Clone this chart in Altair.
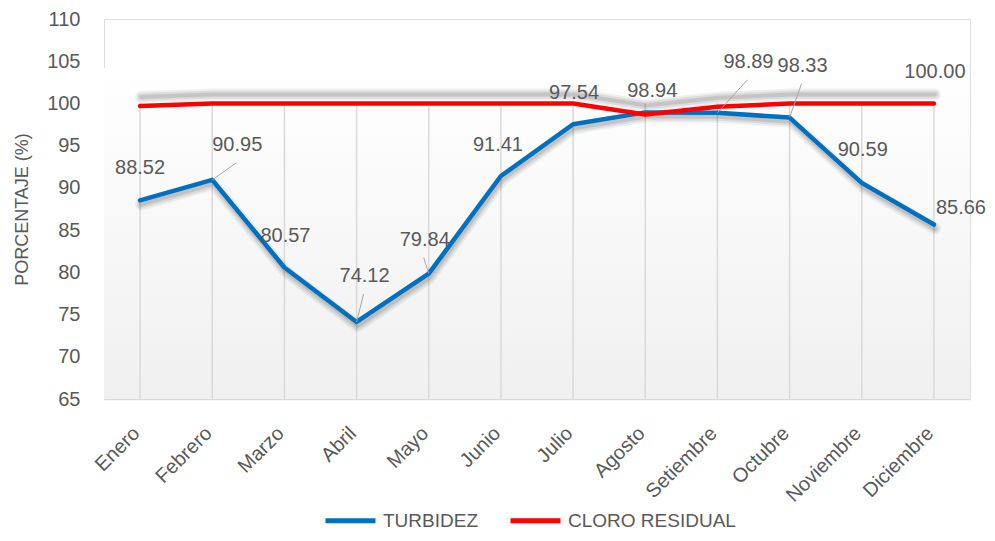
import altair as alt
import pandas as pd

# ---------------- data ----------------
MONTHS = ["Enero", "Febrero", "Marzo", "Abril", "Mayo", "Junio", "Julio",
          "Agosto", "Setiembre", "Octubre", "Noviembre", "Diciembre"]
TURBIDEZ = [88.52, 90.95, 80.57, 74.12, 79.84, 91.41, 97.54, 98.94, 98.89, 98.33, 90.59, 85.66]
CLORO = [99.7, 100.0, 100.0, 100.0, 100.0, 100.0, 100.0, 98.7, 99.6, 100.0, 100.0, 100.0]
SERIES = ["TURBIDEZ", "CLORO RESIDUAL"]
COLORS = ["#0070C0", "#FF0000"]
Y_TICKS = [65, 70, 75, 80, 85, 90, 95, 100, 105, 110]

# label layout (series, month index, dx px, dy px, leader line)
LABEL_LAYOUT = [
    ("TURBIDEZ", 0, 0, -32, False),
    ("TURBIDEZ", 1, 25, -35, True),
    ("TURBIDEZ", 2, 1, -32, False),
    ("TURBIDEZ", 3, 8, -46, True),
    ("TURBIDEZ", 4, -4, -34, True),
    ("TURBIDEZ", 5, -3, -31, False),
    ("TURBIDEZ", 6, 1, -31, False),
    ("TURBIDEZ", 7, 7, -21, False),
    ("TURBIDEZ", 8, 31, -51, True),
    ("TURBIDEZ", 9, 13, -52, True),
    ("TURBIDEZ", 10, 1, -33, False),
    ("TURBIDEZ", 11, 27, -17, False),
    ("CLORO RESIDUAL", 11, 1, -31, False),
]

# ---------------- layout ----------------
W, H = 866, 380
Y_MIN, Y_MAX = 65, 110
PX_X = W / len(MONTHS)
PX_Y = H / (Y_MAX - Y_MIN)
FONT = "Liberation Sans"
GRAY = "#595959"

idx = list(range(len(MONTHS)))
df = pd.DataFrame({
    "idx": idx * 2,
    "month": MONTHS * 2,
    "series": [SERIES[0]] * len(MONTHS) + [SERIES[1]] * len(MONTHS),
    "value": TURBIDEZ + CLORO,
})
values = {SERIES[0]: TURBIDEZ, SERIES[1]: CLORO}

lab_rows = []
for s, i, dx, dy, leader in LABEL_LAYOUT:
    v = values[s][i]
    lx = i + dx / PX_X
    ly = v - dy / PX_Y
    lab_rows.append({
        "series": s, "idx": i, "value": v, "text": f"{v:.2f}",
        "lx": lx, "ly": ly,
        "ex": lx - 1 / PX_X, "ey": ly - 18 / PX_Y, "leader": leader,
    })
labels = pd.DataFrame(lab_rows)
leaders = labels[labels["leader"]]

xscale = alt.Scale(domain=[-0.5, len(MONTHS) - 0.5], nice=False, zero=False)
yscale = alt.Scale(domain=[Y_MIN, Y_MAX], nice=False, zero=False)
month_arr = "[" + ",".join(f"'{m}'" for m in MONTHS) + "]"
xaxis = alt.Axis(values=idx, labelExpr=f"{month_arr}[datum.value]", title=None,
                 grid=False, ticks=False, domain=True, domainColor="#d9d9d9",
                 domainWidth=1.5, labelAngle=-45, labelAlign="right",
                 labelBaseline="middle", labelFontSize=20, labelColor=GRAY,
                 labelFont=FONT, labelPadding=31, labelOffset=-4, labelOverlap=False,
                 labelFlush=False, labelBound=False)
yaxis = alt.Axis(values=Y_TICKS, title="PORCENTAJE (%)", grid=False, ticks=False,
                 domain=False, labelFontSize=20, labelColor=GRAY, labelFont=FONT,
                 labelPadding=24, titleFontSize=18, titleColor=GRAY, titleFont=FONT,
                 titleFontWeight="normal", titleAngle=270, titleX=-82, titleY=190,
                 titleAlign="center", titleBaseline="middle")


def X(f):
    return alt.X(f, type="quantitative", scale=xscale, axis=xaxis)


def Y(f):
    return alt.Y(f, type="quantitative", scale=yscale, axis=yaxis)


base = alt.Chart(df)

bg = alt.Chart(pd.DataFrame({"a": [0]})).mark_rect(
    color=alt.Gradient(gradient="linear", x1=0, y1=0, x2=0, y2=1,
                       stops=[alt.GradientStop(color="#ffffff", offset=0),
                              alt.GradientStop(color="#f0f0f0", offset=1)])
).encode(x=alt.value(0), x2=alt.value(W), y=alt.datum(104.2), y2=alt.datum(Y_MIN))

grid = alt.Chart(pd.DataFrame({"idx": idx})).mark_rule(
    color="#d9d9d9", strokeWidth=1.5
).encode(x=X("idx"), y=alt.datum(Y_MIN), y2=alt.datum(100))

shadow_layers = []
for s, off_y in [(SERIES[0], 4), (SERIES[1], -9)]:
    for sw, op in [(12, 0.06), (8, 0.08), (4, 0.10)]:
        shadow_layers.append(
            base.transform_filter(alt.datum.series == s).mark_line(
                color="#000000", opacity=op, strokeWidth=sw, strokeCap="round",
                strokeJoin="round", yOffset=off_y, xOffset=1
            ).encode(x=X("idx"), y=Y("value"))
        )

color = alt.Color("series:N", scale=alt.Scale(domain=SERIES, range=COLORS),
                  legend=alt.Legend(orient="none", legendX=219, legendY=474,
                                    direction="horizontal", title=None,
                                    symbolType="stroke", symbolSize=2500,
                                    symbolStrokeWidth=5, labelFontSize=19,
                                    labelColor=GRAY, labelFont=FONT,
                                    columnPadding=22, labelOffset=5, labelLimit=0))

line_layers = [
    base.transform_filter(alt.datum.series == s).mark_line(
        strokeWidth=4.5, strokeCap="round", strokeJoin="round"
    ).encode(x=X("idx"), y=Y("value"), color=color)
    for s in SERIES
]

lead = alt.Chart(leaders).mark_rule(color="#a6a6a6", strokeWidth=1).encode(
    x=X("idx"), y=Y("value"), x2="ex", y2="ey")

text = alt.Chart(labels).mark_text(
    fontSize=20, font=FONT, color=GRAY, align="center", baseline="middle"
).encode(x=X("lx"), y=Y("ly"), text="text:N")

chart = alt.layer(bg, grid, *shadow_layers, *line_layers, lead, text).properties(
    width=W, height=H,
    autosize=alt.AutoSizeParams(type="none"),
    padding={"left": 96, "top": 11, "right": 17, "bottom": 134},
).configure_view(stroke=None).configure(background="white")

chart.save("out.html", embed_options={"renderer": "svg", "actions": False})
